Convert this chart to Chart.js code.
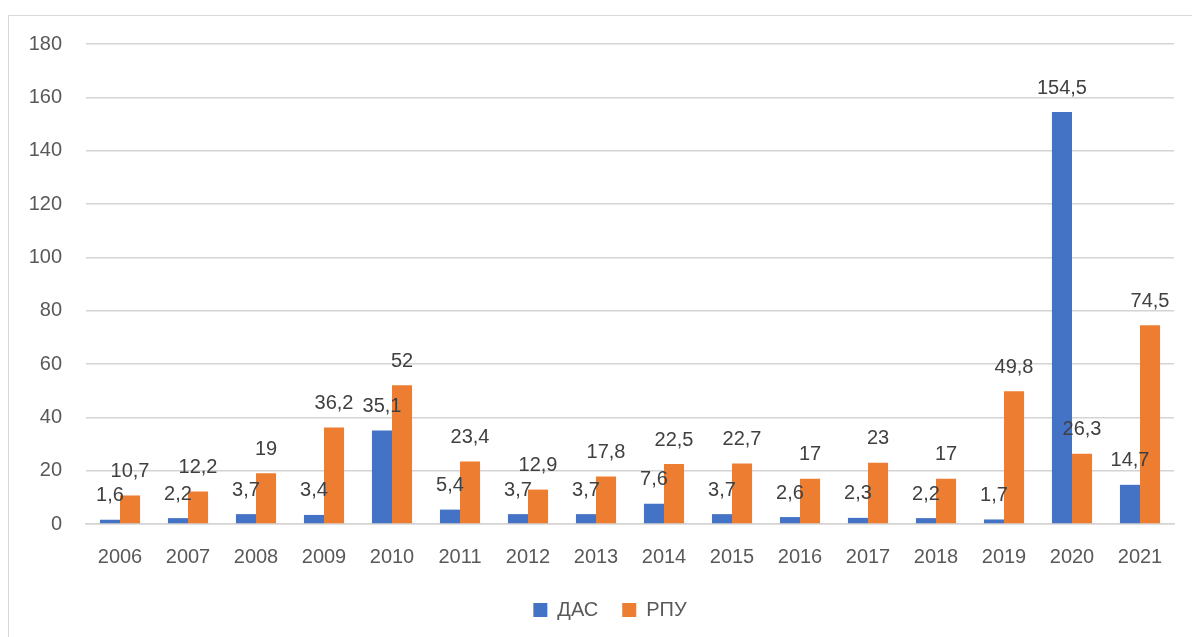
<!DOCTYPE html>
<html>
<head>
<meta charset="utf-8">
<script src="https://cdn.jsdelivr.net/npm/chart.js@4.4.1/dist/chart.umd.min.js"></script>
<style>
    html, body { margin: 0; padding: 0; background: #fff; overflow: hidden; }
    #frame { position: absolute; left: 8px; top: 15px; width: 1200px; height: 640px; border: 1px solid #d9d9d9; box-sizing: border-box; }
    #wrap { position: absolute; left: 0; top: 0; width: 1192px; height: 637px; }
</style>
</head>
<body>
<div id="frame"></div>
<div id="wrap"><canvas id="chart"></canvas></div>
<script>
// годы
const years = ['2006', '2007', '2008', '2009', '2010', '2011', '2012', '2013',
               '2014', '2015', '2016', '2017', '2018', '2019', '2020', '2021'];

// ряды данных
const dasValues = [1.6, 2.2, 3.7, 3.4, 35.1, 5.4, 3.7, 3.7, 7.6, 3.7, 2.6, 2.3, 2.2, 1.7, 154.5, 14.7];
const rpuValues = [10.7, 12.2, 19, 36.2, 52, 23.4, 12.9, 17.8, 22.5, 22.7, 17, 23, 17, 49.8, 26.3, 74.5];

const yMin = 0;
const yMax = 180;
const yStep = 20;

const FONT = '"Liberation Sans", Arial, sans-serif';

// подписи значений над столбцами (через запятую)
const valueLabels = {
    id: 'valueLabels',
    afterDatasetsDraw(chart) {
        const ctx = chart.ctx;
        ctx.save();
        ctx.font = '20px ' + FONT;
        ctx.fillStyle = '#404040';
        ctx.textAlign = 'center';
        ctx.textBaseline = 'middle';
        chart.data.datasets.forEach((ds, i) => {
            chart.getDatasetMeta(i).data.forEach((bar, j) => {
                const text = String(ds.data[j]).replace('.', ',');
                ctx.fillText(text, bar.x, bar.y - 24);
            });
        });
        ctx.restore();
    }
};

// легенда в оригинале немного смещена вправо
const legendShift = {
    id: 'legendShift',
    afterLayout(chart) {
        if (chart.legend) {
            chart.legend.left += 23;
            chart.legend.right += 23;
        }
    }
};

new Chart(document.getElementById('chart'), {
    type: 'bar',
    data: {
        labels: years,
        datasets: [
            {
                label: 'ДАС',
                data: dasValues,
                backgroundColor: '#4472c4',
                categoryPercentage: 0.59,
                barPercentage: 1.0
            },
            {
                label: 'РПУ',
                data: rpuValues,
                backgroundColor: '#ed7d31',
                categoryPercentage: 0.59,
                barPercentage: 1.0
            }
        ]
    },
    options: {
        responsive: true,
        maintainAspectRatio: false,
        animation: false,
        layout: {
            padding: { top: 44, right: 18, bottom: 7, left: 0 }
        },
        plugins: {
            legend: {
                position: 'bottom',
                labels: {
                    boxWidth: 14,
                    boxHeight: 14,
                    padding: 24,
                    color: '#595959',
                    font: { family: FONT, size: 20 }
                }
            },
            tooltip: { enabled: false }
        },
        scales: {
            x: {
                grid: { display: false, drawTicks: false },
                border: { display: true, color: '#d4d4d4', width: 1.5 },
                ticks: {
                    color: '#595959',
                    padding: 21,
                    font: { family: FONT, size: 20 },
                    maxRotation: 0
                },
                afterFit(scale) { scale.height = 52; }
            },
            y: {
                min: yMin,
                max: yMax,
                grid: { color: '#d4d4d4', lineWidth: 1.5, drawTicks: false },
                border: { display: false },
                ticks: {
                    stepSize: yStep,
                    color: '#595959',
                    padding: 24,
                    font: { family: FONT, size: 20 }
                },
                afterFit(scale) { scale.width = 86; }
            }
        }
    },
    plugins: [valueLabels, legendShift]
});
</script>
</body>
</html>
